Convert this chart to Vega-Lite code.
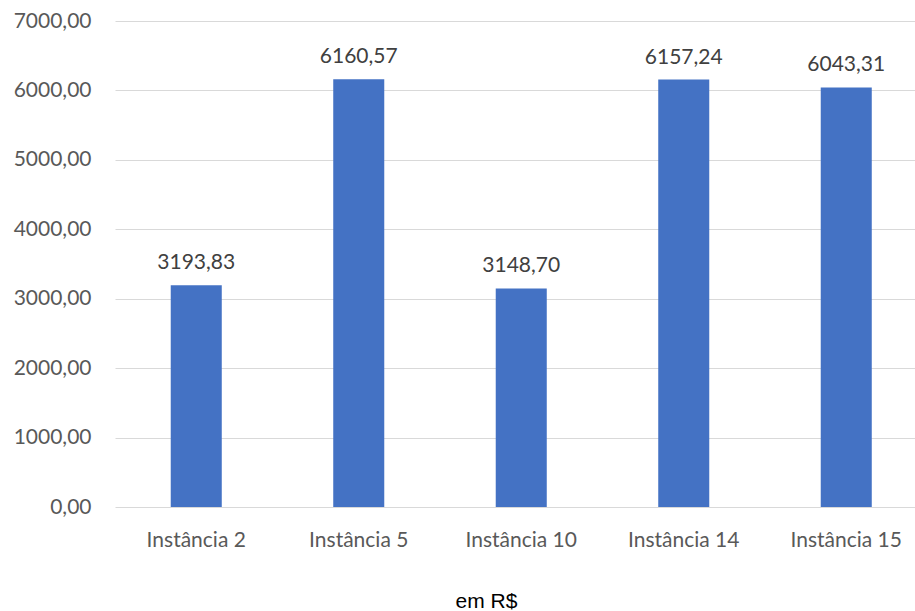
{
  "$schema": "https://vega.github.io/schema/vega-lite/v6.json",
  "autosize": {"type": "none"},
  "width": 800,
  "height": 486,
  "padding": {"left": 115, "top": 21, "right": 0, "bottom": 104},
  "background": "white",
  "config": {
    "locale": {"number": {"decimal": ",", "thousands": ".", "grouping": [3], "currency": ["R$ ", ""]}},
    "view": {"stroke": null},
    "font": "Lato"
  },
  "data": {
    "values": [
      {"instancia": "Instância 2", "custo": 3193.83},
      {"instancia": "Instância 5", "custo": 6160.57},
      {"instancia": "Instância 10", "custo": 3148.70},
      {"instancia": "Instância 14", "custo": 6157.24},
      {"instancia": "Instância 15", "custo": 6043.31}
    ]
  },
  "encoding": {
    "x": {
      "field": "instancia",
      "type": "nominal",
      "sort": null,
      "scale": {"range": [0, 812.5], "paddingInner": 0.686, "paddingOuter": 0.343},
      "axis": {
        "title": "em R$",
        "titleFont": "Liberation Sans",
        "titleFontSize": 21,
        "titleFontWeight": "normal",
        "titleColor": "#000000",
        "titleX": 371,
        "titleY": 100,
        "titleAlign": "center",
        "titleBaseline": "alphabetic",
        "labelAngle": 0,
        "labelFont": "Lato",
        "labelFontSize": 21,
        "labelColor": "#595959",
        "labelBaseline": "alphabetic",
        "labelPadding": 39,
        "ticks": false,
        "domain": false,
        "grid": false
      }
    },
    "y": {
      "field": "custo",
      "type": "quantitative",
      "scale": {"domain": [0, 7000], "nice": false},
      "axis": {
        "title": null,
        "values": [0, 1000, 2000, 3000, 4000, 5000, 6000, 7000],
        "format": ".2f",
        "labelFont": "Lato",
        "labelFontSize": 21,
        "labelColor": "#595959",
        "labelPadding": 24,
        "ticks": false,
        "domain": false,
        "grid": true,
        "gridColor": "#d9d9d9",
        "gridWidth": 1.2
      }
    }
  },
  "layer": [
    {"mark": {"type": "bar", "color": "#4472C4"}},
    {
      "mark": {"type": "text", "font": "Lato", "fontSize": 21, "color": "#404040", "baseline": "alphabetic", "dy": -16},
      "encoding": {"text": {"field": "custo", "type": "quantitative", "format": ".2f"}}
    }
  ]
}
